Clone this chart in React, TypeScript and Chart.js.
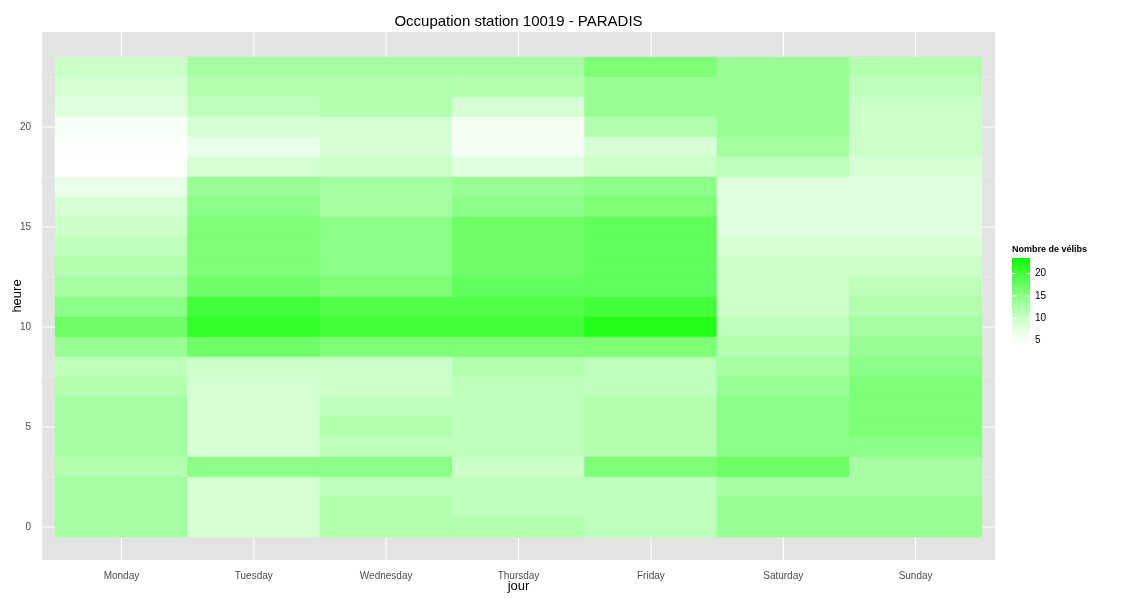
import { useEffect, useRef } from 'react';
import { Chart, registerables } from 'chart.js';

Chart.register(...registerables);

const days = ['Monday', 'Tuesday', 'Wednesday', 'Thursday', 'Friday', 'Saturday', 'Sunday'];
const hours = Array.from({ length: 24 }, (_, h) => h);

// values per hour 0..23
const monday = [13, 13, 13, 12, 13, 13, 13, 12, 11, 14, 17, 15, 13, 12, 11, 10, 9, 7, 4, 4.5, 5.5, 8, 9, 10];
const tuesday = [9, 9, 9, 15, 9, 9, 9, 9, 10, 17, 21, 20, 17, 16, 16, 16, 15, 14, 9, 7, 9, 11, 12, 13];
const wednesday = [12, 12, 11, 15, 11, 12, 11, 10, 10, 16, 20, 19, 16, 15, 15, 15, 13, 13, 10, 9, 9, 12, 12, 13];
const thursday = [12, 11, 11, 10, 11, 11, 11, 11, 12, 16, 20, 19, 18, 17, 17, 17, 15, 14, 8, 6, 6, 9, 12, 13];
const friday = [11, 11, 11, 16, 12, 12, 12, 11, 11, 16, 22, 20, 18, 18, 18, 18, 16, 15, 10, 9, 12, 14, 14, 16];
const saturday = [14, 14, 13, 17, 15, 15, 15, 14, 13, 12, 11, 10, 10, 10, 9, 8, 8, 8, 11, 13, 14, 14, 14, 14];
const sunday = [14, 14, 13, 13, 15, 16, 16, 16, 15, 14, 13, 12, 11, 10, 9, 8, 8, 8, 9, 10, 10, 10, 11, 12];
const series = [monday, tuesday, wednesday, thursday, friday, saturday, sunday];

const legendTicks = [5, 10, 15, 20];
const vMin = 4;
const vMax = 23.5;

function colorFor(v: number) {
  const t0 = Math.max(0, Math.min(1, (v - vMin) / (vMax - vMin)));
  const t = Math.pow(t0, 1.3);
  const rb = Math.round(255 * (1 - t) + 10 * t);
  return `rgb(${rb},255,${Math.round(255 * (1 - t))})`;
}

const decor = {
  id: 'decor',
  beforeDraw(chart: any) {
    const { ctx, chartArea: a, scales } = chart;
    ctx.save();
    ctx.fillStyle = '#e3e3e3';
    ctx.fillRect(a.left, a.top, a.right - a.left, a.bottom - a.top);
    ctx.strokeStyle = '#f2f2f2';
    ctx.lineWidth = 0.6;
    for (let v = -2.5; v <= 25; v += 5) {
      const y = scales.y.getPixelForValue(v);
      if (y < a.top || y > a.bottom) continue;
      ctx.beginPath(); ctx.moveTo(a.left, y); ctx.lineTo(a.right, y); ctx.stroke();
    }
    ctx.strokeStyle = '#ffffff';
    ctx.lineWidth = 1.2;
    for (let v = 0; v <= 20; v += 5) {
      const y = scales.y.getPixelForValue(v);
      ctx.beginPath(); ctx.moveTo(a.left, y); ctx.lineTo(a.right, y); ctx.stroke();
    }
    for (let i = 1; i <= 7; i++) {
      const x = scales.x.getPixelForValue(i);
      ctx.beginPath(); ctx.moveTo(x, a.top); ctx.lineTo(x, a.bottom); ctx.stroke();
    }
    ctx.restore();
  },
  afterDraw(chart: any) {
    const { ctx, chartArea: a } = chart;
    ctx.save();
    ctx.fillStyle = '#000';
    ctx.textAlign = 'center';
    ctx.textBaseline = 'middle';
    ctx.font = '15px "Liberation Sans", Arial, sans-serif';
    ctx.fillText('Occupation station 10019 - PARADIS', (a.left + a.right) / 2, 22);
    ctx.font = '13px "Liberation Sans", Arial, sans-serif';
    ctx.fillText('jour', (a.left + a.right) / 2, 586);
    ctx.translate(17, (a.top + a.bottom) / 2);
    ctx.rotate(-Math.PI / 2);
    ctx.fillText('heure', 0, 0);
    ctx.restore();

    // legend
    ctx.save();
    const lx = 1012, lw = 18, top = 258, bot = 345;
    const g = ctx.createLinearGradient(0, bot, 0, top);
    for (let i = 0; i <= 10; i++) g.addColorStop(i / 10, colorFor(vMin + (vMax - vMin) * i / 10));
    ctx.fillStyle = g;
    ctx.fillRect(lx, top, lw, bot - top);
    ctx.font = 'bold 9px "Liberation Sans", Arial, sans-serif';
    ctx.fillStyle = '#000';
    ctx.textBaseline = 'middle';
    ctx.fillText('Nombre de vélibs', 1012, 250);
    ctx.font = '10px "Liberation Sans", Arial, sans-serif';
    legendTicks.forEach((v) => {
      const y = bot - (v - vMin) / (vMax - vMin) * (bot - top);
      ctx.strokeStyle = '#ffffff';
      ctx.beginPath(); ctx.moveTo(lx, y); ctx.lineTo(lx + 4, y); ctx.moveTo(lx + lw - 4, y); ctx.lineTo(lx + lw, y); ctx.stroke();
      ctx.fillStyle = '#000';
      ctx.fillText(String(v), lx + lw + 5, y);
    });
    ctx.restore();
  },
};

export default function App() {
  const canvasRef = useRef<HTMLCanvasElement>(null);
  const chartRef = useRef<Chart | null>(null);

  useEffect(() => {
    if (!canvasRef.current) return;
    if (chartRef.current) chartRef.current.destroy();

    const datasets = hours.map((h) => ({
      label: `h${h}`,
      data: series.map((s, i) => ({ x: i + 1, y: [h - 0.5, h + 0.5] })),
      backgroundColor: series.map((s) => colorFor(s[h])),
      borderWidth: 0,
      barPercentage: 1,
      categoryPercentage: 1,
    }));

    chartRef.current = new Chart(canvasRef.current, {
      type: 'bar',
      data: { datasets } as any,
      plugins: [decor],
      options: {
        animation: false,
        responsive: false,
        layout: { padding: { left: 12, right: 130, top: 32, bottom: 0 } },
        plugins: { legend: { display: false }, tooltip: { enabled: false } },
        scales: {
          x: {
            type: 'linear',
            stacked: true,
            offset: false,
            min: 0.4,
            max: 7.6,
            grid: { display: false, offset: false },
            border: { display: false },
            afterBuildTicks: (s: any) => { s.ticks = days.map((_, i) => ({ value: i + 1 })); },
            afterFit: (s: any) => { s.height = 40; },
            ticks: {
              callback: (v: any) => days[Number(v) - 1] ?? '',
              color: '#4d4d4d',
              font: { size: 10, family: '"Liberation Sans", Arial, sans-serif' },
              padding: 2,
              maxRotation: 0,
            },
          },
          y: {
            type: 'linear',
            min: -1.65,
            max: 24.75,
            grid: { display: false },
            border: { display: false },
            afterBuildTicks: (s: any) => { s.ticks = [0, 5, 10, 15, 20].map((v) => ({ value: v })); },
            afterFit: (s: any) => { s.width = 30; },
            ticks: {
              color: '#4d4d4d',
              font: { size: 10, family: '"Liberation Sans", Arial, sans-serif' },
            },
          },
        },
      } as any,
    });

    return () => {
      if (chartRef.current) chartRef.current.destroy();
    };
  }, []);

  return (
    <div style={{ position: 'absolute', left: 0, top: 0, width: 1125, height: 600, background: '#fff' }}>
      <canvas ref={canvasRef} width={1125} height={600} />
    </div>
  );
}
